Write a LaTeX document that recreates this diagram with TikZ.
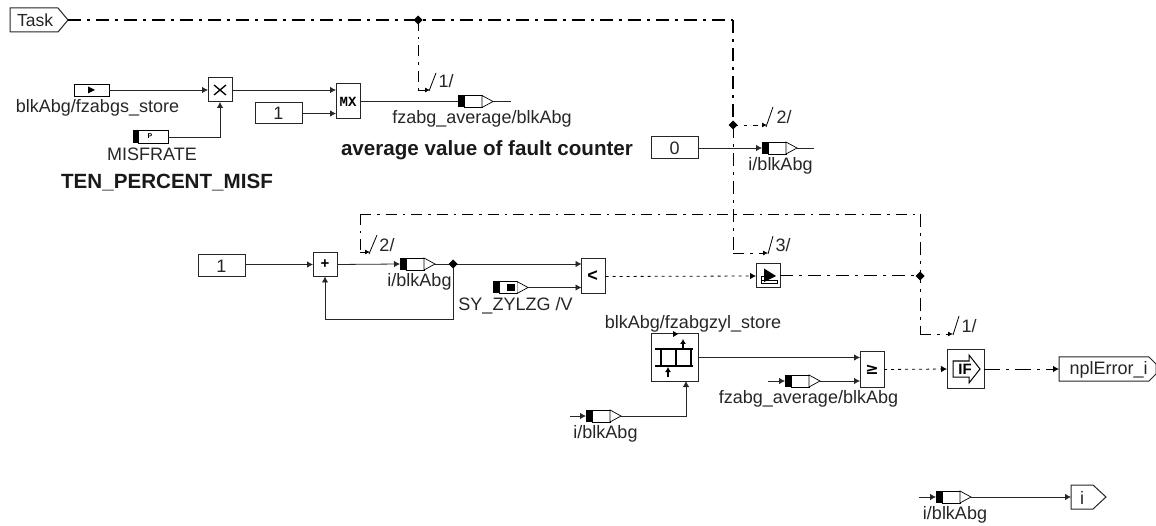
\documentclass[tikz,border=0pt]{standalone}
\usepackage{fontspec}
\setmainfont{Liberation Sans}
\usetikzlibrary{arrows.meta}
\tikzset{
  wire/.style={line width=0.8pt,draw=black!85},
  arr/.style={wire,-{Latex[length=6pt,width=6.5pt]}},
  ctl/.style={line width=1pt,dash pattern=on 13pt off 6pt on 3pt off 6pt},
  ctlthin/.style={line width=0.8pt,dash pattern=on 11pt off 6pt on 2.5pt off 6pt},
  ctlarr/.style={ctlthin,-{Latex[length=5pt,width=5pt]}},
  sig/.style={line width=0.8pt,dash pattern=on 3pt off 4pt,-{Latex[length=6pt,width=6.5pt]}},
  blk/.style={draw=black!85,line width=1pt,fill=white,inner sep=0pt,outer sep=0pt,minimum width=#1},
  txt/.style={font=\fontsize{18}{18}\selectfont,inner sep=0pt,text=black!85},
  btxt/.style={font=\fontsize{20.6}{20.6}\selectfont\bfseries,inner sep=0pt,text=black!90},
  sym/.style={font=\fontsize{15}{15}\selectfont\bfseries,inner sep=0pt},
  slash/.style={line width=0.8pt},
}
% \tagblk{name}{x of black start}{y centre}
\newcommand{\tagblk}[3]{%
  \fill[black] (#2,#3-6) rectangle (#2+6,#3+6);
  \draw[line width=0.7pt,fill=white] (#2+6,#3-6) rectangle (#2+24,#3+6);
  \draw[line width=0.7pt,fill=white] (#2+24,#3-6) -- (#2+35,#3) -- (#2+24,#3+6) -- cycle;
  \coordinate (#1-in) at (#2,#3);
  \coordinate (#1-out) at (#2+35,#3);
}
\newcommand{\diam}[2]{\fill[black] (#2,#1) ++(0,-4.5) -- ++(4.5,4.5) -- ++(-4.5,4.5) -- ++(-4.5,-4.5) -- cycle;}
\begin{document}
\begin{tikzpicture}[x=1pt,y=-1pt]
\useasboundingbox (0,0) rectangle (1156,526);

% named points
\coordinate (j1) at (418,20);
\coordinate (c1) at (733,20);
\coordinate (j2) at (733,125);
\coordinate (j3) at (920,276);
\coordinate (top) at (920,214);
\coordinate (topL) at (360,214);
\coordinate (fb) at (453,264);
\coordinate (c2a) at (733,253);
\coordinate (b1a) at (430,90);
\coordinate (b1c) at (418,90);
\coordinate (b2a) at (767,125);
\coordinate (b3a) at (768,253);
\coordinate (b4c) at (920,334);
\coordinate (b4a) at (953,334);
\coordinate (b5c) at (360,252);
\coordinate (b5a) at (370,252);

% blocks
\draw[line width=1pt,fill=white,draw=black!85] (10,8) -- (58,8) -- (68,20) -- (58,32) -- (10,32) -- cycle;
\node[txt,font=\fontsize{17.5}{17.5}\selectfont] (task) at (35,20.5) {Task};
\coordinate (taskout) at (68,20);

\node[blk=24pt,minimum height=24pt] (mul) at (220,90) {};
\draw[line width=1.3pt] (214,85) -- (226,95) (226,85) -- (214,95);
\node[blk=24pt,minimum height=35pt] (mx) at (348,101.5) {};
\node[sym,font=\fontsize{14}{14}\selectfont\bfseries] (mxt) at (348,101.5) {\fontspec{Liberation Mono}[Scale=1]MX};
\node[blk=47pt,minimum height=21pt] (k1) at (278.5,113.5) {};
\node[txt] (k1t) at (278.5,113.5) {1};
\node[blk=47pt,minimum height=22pt] (k0) at (674.5,148) {};
\node[txt] (k0t) at (674.5,148) {0};
\node[blk=47pt,minimum height=22pt] (k2) at (221.5,266) {};
\node[txt] (k2t) at (221.5,266) {1};
\node[blk=24pt,minimum height=24pt] (add) at (325,264.5) {};
\node[sym] (addt) at (325,264) {+};
\node[blk=24pt,minimum height=35pt] (lt) at (593.5,276.5) {};
\node[sym,font=\fontsize{18}{18}\selectfont\bfseries] (ltt) at (592.5,276.5) {<};
\node[blk=24pt,minimum height=24pt] (sw) at (768,276) {};
\draw[line width=0.8pt] (761,280) rectangle (777,283);
\draw[line width=0.8pt] (761,280) -- (761,276) -- (764,276);
\fill (764,268.5) -- (776,276) -- (764,282) -- cycle;
\node[blk=47pt,minimum height=47pt] (st) at (674.5,357.5) {};
\draw[line width=1.5pt] (655,349) -- (693,349) (655,366) -- (693,366) (661,349) -- (661,366) (676,349) -- (676,366) (691,349) -- (691,366);
\draw[line width=1.3pt,-{Latex[length=5pt,width=6pt]}] (683,349) -- (683,339);
\draw[line width=1.3pt,-{Latex[length=5pt,width=6pt]}] (668,377) -- (668,367);
\fill (673,331) -- (678,334) -- (673,337) -- cycle;
\node[blk=24pt,minimum height=35pt] (ge) at (872,369.5) {};
\node[sym,font=\fontsize{16}{16}\selectfont\bfseries] (get) at (872,369.5) {\fontspec{DejaVu Sans}≥};
\node[blk=37pt,minimum height=38pt] (iff) at (965.5,369) {};
\draw[line width=1pt] (953,361) -- (969,361) -- (969,355) -- (980,369) -- (969,383) -- (969,377) -- (953,377) -- cycle;
\node[sym,font=\fontsize{15}{15}\selectfont\bfseries] (ift) at (965,369) {IF};
\draw[line width=1pt,draw=black!85,fill=white] (1059,357) -- (1149,357) -- (1156,364) -- (1156,374) -- (1149,381) -- (1059,381) -- cycle;
\node[txt] (npl) at (1108.5,369.5) {nplError\_i};
\coordinate (nplin) at (1059,369);
\draw[line width=1pt,draw=black!85,fill=white] (1071,485) -- (1093,485) -- (1106,497) -- (1093,509) -- (1071,509) -- cycle;
\node[txt] (it) at (1082,497.5) {i};
\coordinate (iin) at (1071,497);

% input tags
\draw[line width=0.7pt,fill=white] (74,84) rectangle (109,96);
\fill (88,86.5) -- (95,90) -- (88,93.5) -- cycle;
\coordinate (a1) at (109,90);
\fill (133,130.5) rectangle (138,143);
\draw[line width=0.7pt,fill=white] (138,130.5) rectangle (168,143);
\node[font=\fontsize{7}{7}\selectfont\bfseries,inner sep=0pt] (pglyph) at (150,136.5) {P};
\coordinate (a2) at (168,137);

\tagblk{t1}{458}{101.5}
\tagblk{t2}{762}{148}
\tagblk{t3}{400}{264}
\tagblk{t4}{493}{287.5}
\fill[white] (499.5,282) rectangle (516.5,293);
\fill (507,284) rectangle (515,291);
\tagblk{t5}{785}{381}
\tagblk{t6}{586}{416}
\tagblk{t7}{936}{497}
\coordinate (e1) at (511,101.5);
\coordinate (e2) at (814,148);
\coordinate (s5) at (768,381);
\coordinate (s6) at (570,416);
\coordinate (s7) at (919,497);
\coordinate (fbd) at (453,319);
\coordinate (fbl) at (325,319);
\coordinate (stin) at (686,381);

% signal wires
\draw[arr] (a1) -- (mul.west);
\draw[arr] (a2) -| (mul.south);
\draw[arr] (mul.east) -- (mul.east -| mx.west);
\draw[arr] (k1.east) -- (k1.east -| mx.west);
\draw[wire] (mx.east) -- (t1-in);
\draw[wire] (t1-out) -- (e1);
\draw[arr] (k0.east) -- (t2-in);
\draw[wire] (t2-out) -- (e2);
\draw[arr] (add.west -| k2.east) -- (add.west);
\draw[arr] (add.east) -- (t3-in);
\draw[wire] (t3-out) -- (fb);
\draw[arr] (fb) -- (fb -| lt.west);
\draw[arr] (t4-out) -- (t4-out -| lt.west);
\draw[arr] (fb) -- (fbd) -- (fbl) -- (add.south);
\draw[arr] (st.east) -- (st.east -| ge.west);
\draw[arr] (s5) -- (t5-in);
\draw[arr] (t5-out) -- (t5-out -| ge.west);
\draw[arr] (s6) -- (t6-in);
\draw[arr] (t6-out) -| (stin);
\draw[arr] (s7) -- (t7-in);
\draw[arr] (t7-out) -- (iin);
\draw[sig] (lt.east) -- (sw.west);
\draw[sig] (ge.east) -- (iff.west);

% control wires
\draw[ctl,line width=1.6pt] (taskout) -- (j1) -- (c1);
\draw[ctl,line width=1.2pt] (c1) -- (j2);
\draw[ctl] (j2) -- (c2a);
\draw[ctlthin] (j1) -- (b1c);
\draw[ctlarr] (b1c) -- (b1a);
\draw[ctlarr,dash pattern=on 5pt off 6pt on 2.5pt off 6pt] (j2) -- (b2a);
\draw[ctlarr] (c2a) -- (b3a);
\draw[ctlthin] (topL) -- (top);
\draw[ctlthin] (topL) -- (b5c);
\draw[ctlarr,dash pattern=on 6pt off 1pt] (b5c) -- (b5a);
\draw[ctl] (sw.east) -- (j3);
\draw[ctl] (top) -- (j3) -- (b4c);
\draw[ctlarr] (b4c) -- (b4a);
\draw[line width=1pt,dash pattern=on 16pt off 6pt on 3pt off 6pt,-{Latex[length=6pt,width=6.5pt]}] (iff.east) -- (nplin);

% junctions
\diam{20}{418}
\diam{125}{733}
\diam{276}{920}
\diam{264}{453}

% slashes
\draw[slash] (429,91) -- (436,73);
\draw[slash] (766,127) -- (773,107);
\draw[slash] (768,254) -- (773,236);
\draw[slash] (369,254) -- (377,235);
\draw[slash] (953,335) -- (959,316);

% labels
\node[txt] (l1) at (97.5,108) {blkAbg/fzabgs\_store};
\node[txt] (l2) at (152,154) {MISFRATE};
\node[btxt] (l3) at (167,182.5) {TEN\_PERCENT\_MISF};
\node[btxt] (l4) at (487,150) {average value of fault counter};
\node[txt] (l5) at (482,119) {fzabg\_average/blkAbg};
\node[txt] (l6) at (780.5,166) {i/blkAbg};
\node[txt] (l7) at (419.5,282) {i/blkAbg};
\node[txt] (l8) at (515.5,306) {SY\_ZYLZG /V};
\node[txt] (l9) at (693,323.5) {blkAbg/fzabgzyl\_store};
\node[txt] (l10) at (808.5,399) {fzabg\_average/blkAbg};
\node[txt] (l11) at (605.5,433.5) {i/blkAbg};
\node[txt] (l12) at (955,515) {i/blkAbg};
\node[txt] (n1) at (446,81.5) {1/};
\node[txt] (n2) at (784,117) {2/};
\node[txt] (n3) at (783,245) {3/};
\node[txt] (n4) at (387,245.5) {2/};
\node[txt] (n5) at (969,326.5) {1/};
\end{tikzpicture}
\end{document}
